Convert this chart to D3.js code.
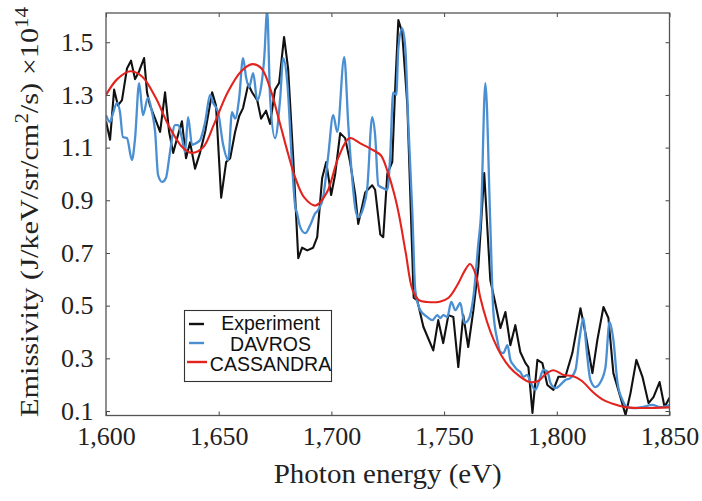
<!DOCTYPE html>
<html>
<head>
<meta charset="utf-8">
<script src="https://cdn.jsdelivr.net/npm/d3@7/dist/d3.min.js"></script>
<style>
  html, body { margin: 0; padding: 0; background: #fff; }
  svg { display: block; }
  .tick text { font-family: "Liberation Serif", "Times New Roman", serif; font-size: 26px; fill: #222; }
  .axis-title { font-family: "Liberation Serif", "Times New Roman", serif; fill: #222; }
  .legend-text { font-family: "Liberation Sans", Arial, sans-serif; font-size: 19.5px; fill: #111; }
</style>
</head>
<body>
<svg id="chart"></svg>
<script>
// Experiment (black)
const expEnergy = [1600.0, 1601.8, 1603.6, 1605.3, 1607.1, 1609.3, 1611.1, 1612.9, 1614.7, 1616.9,
  1618.2, 1619.5, 1621.8, 1624.0, 1626.2, 1628.0, 1629.8, 1632.0, 1633.7, 1635.5,
  1637.3, 1639.5, 1641.7, 1644.0, 1647.1, 1648.8, 1651.1, 1653.3, 1655.1, 1657.3,
  1659.1, 1660.8, 1663.1, 1664.8, 1667.1, 1668.8, 1671.0, 1672.8, 1675.0, 1676.8,
  1679.0, 1680.8, 1683.0, 1685.3, 1687.0, 1689.3, 1691.9, 1693.7, 1695.9, 1697.7,
  1699.9, 1701.7, 1703.9, 1706.1, 1708.3, 1710.6, 1711.9, 1715.0, 1718.1, 1719.4,
  1721.7, 1723.0, 1724.8, 1727.0, 1728.3, 1729.7, 1731.4, 1733.7, 1736.5, 1738.1,
  1740.8, 1745.2, 1747.4, 1749.6, 1751.9, 1754.1, 1756.3, 1758.5, 1760.7, 1763.0,
  1765.2, 1767.8, 1770.5, 1772.7, 1775.0, 1777.2, 1779.4, 1781.6, 1783.8, 1786.1,
  1787.4, 1789.2, 1791.4, 1793.6, 1795.8, 1798.5, 1800.7, 1803.8, 1806.9, 1810.5,
  1812.7, 1815.8, 1818.0, 1820.7, 1822.9, 1825.1, 1828.2, 1830.5, 1832.7, 1835.3,
  1838.0, 1840.7, 1842.9, 1845.6, 1847.8, 1850.0];
const expValue = [1.20, 1.13, 1.32, 1.26, 1.28, 1.40, 1.43, 1.36, 1.39, 1.44,
  1.31, 1.26, 1.21, 1.16, 1.31, 1.16, 1.08, 1.15, 1.20, 1.06,
  1.12, 1.02, 1.08, 1.16, 1.31, 1.26, 0.91, 1.045, 1.06, 1.16,
  1.22, 1.25, 1.34, 1.31, 1.28, 1.21, 1.24, 1.19, 1.32, 1.345,
  1.52, 1.40, 1.07, 0.68, 0.72, 0.71, 0.72, 0.76, 0.985, 1.045,
  0.92, 1.00, 1.155, 1.136, 1.045, 0.92, 0.81, 0.93, 0.957, 0.94,
  0.77, 0.76, 1.00, 1.045, 1.326, 1.584, 1.538, 1.26, 0.53, 0.52,
  0.42, 0.33, 0.445, 0.358, 0.464, 0.457, 0.267, 0.464, 0.343, 0.483,
  0.647, 1.003, 0.597, 0.51, 0.415, 0.476, 0.35, 0.426, 0.324, 0.282,
  0.267, 0.093, 0.294, 0.282, 0.199, 0.18, 0.23, 0.23, 0.32, 0.49,
  0.396, 0.244, 0.37, 0.495, 0.453, 0.244, 0.153, 0.085, 0.168, 0.294,
  0.23, 0.13, 0.153, 0.21, 0.115, 0.15];

// DAVROS (blue)
const davEnergy = [1600.0, 1601.8, 1603.1, 1604.9, 1606.2, 1607.5, 1609.3, 1611.5, 1612.9, 1614.7,
  1616.4, 1618.6, 1620.4, 1621.8, 1623.1, 1624.9, 1626.6, 1628.4, 1630.6, 1632.0,
  1633.7, 1635.1, 1636.4, 1638.2, 1639.5, 1641.7, 1644.0, 1646.2, 1647.5, 1649.7,
  1652.0, 1654.2, 1655.9, 1657.3, 1659.1, 1660.8, 1662.2, 1663.5, 1665.3, 1667.1,
  1668.8, 1670.2, 1671.5, 1672.8, 1675.0, 1677.3, 1678.6, 1680.4, 1682.6, 1683.9,
  1684.8, 1686.1, 1688.4, 1690.6, 1692.8, 1694.1, 1696.3, 1698.6, 1700.8, 1702.6,
  1705.7, 1707.5, 1709.2, 1710.6, 1711.9, 1714.1, 1715.9, 1718.1, 1719.4, 1720.8,
  1723.0, 1724.8, 1726.1, 1727.4, 1728.8, 1729.7, 1731.4, 1732.8, 1734.1, 1735.9,
  1737.2, 1739.4, 1742.5, 1744.8, 1747.0, 1748.3, 1749.6, 1751.4, 1753.2, 1755.0,
  1757.2, 1759.0, 1760.7, 1763.0, 1765.2, 1766.4, 1768.3, 1770.5, 1771.8, 1773.6,
  1775.0, 1776.3, 1778.1, 1779.4, 1780.7, 1782.5, 1783.8, 1785.2, 1786.9, 1788.3,
  1790.5, 1792.3, 1794.0, 1795.8, 1797.2, 1799.4, 1801.6, 1803.8, 1806.0, 1808.3,
  1810.0, 1811.8, 1813.1, 1814.9, 1817.1, 1819.4, 1821.6, 1823.4, 1825.1, 1826.9,
  1829.1, 1831.3, 1834.0, 1838.0, 1842.4, 1846.0, 1850.0];
const davValue = [1.223, 1.197, 1.23, 1.27, 1.235, 1.14, 1.136, 1.053, 1.136, 1.345,
  1.223, 1.29, 1.235, 1.16, 0.996, 0.97, 0.985, 1.083, 1.185, 1.185,
  1.136, 1.083, 1.216, 1.11, 1.115, 1.128, 1.197, 1.30, 1.27, 1.235,
  1.11, 1.053, 1.235, 1.21, 1.29, 1.44, 1.364, 1.33, 1.383, 1.28,
  1.33, 1.44, 1.62, 1.29, 1.136, 1.29, 1.44, 1.35, 1.03, 0.88,
  0.85, 0.80, 0.775, 0.806, 0.85, 0.863, 0.91, 1.07, 1.223, 1.16,
  1.443, 1.185, 0.985, 0.87, 0.836, 0.87, 0.946, 1.216, 1.147, 0.957,
  0.946, 0.94, 1.07, 1.31, 1.30, 1.478, 1.553, 1.478, 1.197, 0.855,
  0.56, 0.483, 0.457, 0.445, 0.464, 0.453, 0.464, 0.457, 0.514, 0.483,
  0.51, 0.434, 0.445, 0.533, 0.737, 0.85, 1.345, 0.81, 0.483, 0.37,
  0.324, 0.32, 0.35, 0.294, 0.275, 0.256, 0.248, 0.23, 0.237, 0.21,
  0.18, 0.218, 0.256, 0.25, 0.206, 0.187, 0.199, 0.218, 0.225, 0.256,
  0.37, 0.453, 0.343, 0.218, 0.191, 0.21, 0.267, 0.438, 0.37, 0.21,
  0.142, 0.115, 0.111, 0.115, 0.123, 0.115, 0.123];

// CASSANDRA (red)
const casEnergy = [1600, 1605, 1610.7, 1616, 1622, 1628, 1634, 1638, 1643, 1648,
  1654, 1660, 1665, 1669, 1673, 1677, 1681, 1684, 1688, 1693,
  1698, 1703, 1708, 1713, 1718.6, 1722, 1725, 1728, 1730, 1733,
  1736, 1739, 1742.5, 1748, 1752, 1756, 1759, 1761.5, 1764, 1766,
  1769, 1772, 1775.5, 1779, 1783, 1788, 1792, 1795, 1798.5, 1803,
  1807, 1811, 1816, 1820, 1824, 1831, 1850];
const casValue = [1.30, 1.36, 1.39, 1.37, 1.29, 1.18, 1.10, 1.08, 1.10, 1.19,
  1.31, 1.39, 1.417, 1.40, 1.32, 1.197, 1.07, 0.985, 0.91, 0.88,
  0.93, 1.06, 1.136, 1.115, 1.09, 1.07, 1.007, 0.92, 0.844, 0.70,
  0.56, 0.52, 0.514, 0.515, 0.53, 0.58, 0.63, 0.658, 0.62, 0.533,
  0.44, 0.37, 0.31, 0.267, 0.235, 0.21, 0.215, 0.24, 0.255, 0.237,
  0.233, 0.215, 0.172, 0.145, 0.13, 0.114, 0.114];

const xTicks = [1600, 1650, 1700, 1750, 1800, 1850];
const yTicks = [0.1, 0.3, 0.5, 0.7, 0.9, 1.1, 1.3, 1.5];

const seriesNames = ["Experiment", "DAVROS", "CASSANDRA"];
const seriesColors = ["#111111", "#4a8fd2", "#e3231d"];

const width = 702;
const height = 501;
const plot = { left: 106, right: 669.5, top: 13, bottom: 415.5 };

const svg = d3.select("#chart").attr("width", width).attr("height", height);

const x = d3.scaleLinear().domain([1600, 1850]).range([plot.left, plot.right]);
const y = d3.scaleLinear().domain([0.083, 1.611]).range([plot.bottom, plot.top]);

svg.append("defs")
  .append("clipPath")
  .attr("id", "plot-clip")
  .append("rect")
  .attr("x", plot.left)
  .attr("y", plot.top)
  .attr("width", plot.right - plot.left)
  .attr("height", plot.bottom - plot.top);

// axes (ticks point inward, like the matlab box)
const bottomAxis = svg.append("g")
  .attr("transform", `translate(0,${plot.bottom})`)
  .call(d3.axisBottom(x).tickValues(xTicks).tickFormat(d3.format(",")).tickSize(-4).tickPadding(11));

svg.append("g")
  .attr("transform", `translate(0,${plot.top})`)
  .call(d3.axisTop(x).tickValues(xTicks).tickFormat("").tickSize(-4));

svg.append("g")
  .attr("transform", `translate(${plot.left},0)`)
  .call(d3.axisLeft(y).tickValues(yTicks).tickFormat(d3.format(".1f")).tickSize(-4).tickPadding(12.5));

svg.append("g")
  .attr("transform", `translate(${plot.right},0)`)
  .call(d3.axisRight(y).tickValues(yTicks).tickFormat("").tickSize(-4));

svg.selectAll(".domain").remove();
svg.selectAll(".tick line").attr("stroke", "#444").attr("stroke-width", 1);

// lines
const series = [
  { energy: expEnergy, value: expValue, curve: d3.curveLinear, width: 2.1 },
  { energy: davEnergy, value: davValue, curve: d3.curveMonotoneX, width: 2.3 },
  { energy: casEnergy, value: casValue, curve: d3.curveCatmullRom.alpha(0.5), width: 2.1 },
];

const lines = svg.append("g").attr("clip-path", "url(#plot-clip)");

series.forEach((s, i) => {
  const pts = s.energy.map((e, j) => [e, s.value[j]]);
  const line = d3.line()
    .x((d) => x(d[0]))
    .y((d) => y(d[1]))
    .curve(s.curve);
  lines.append("path")
    .datum(pts)
    .attr("fill", "none")
    .attr("stroke", seriesColors[i])
    .attr("stroke-width", s.width)
    .attr("stroke-linejoin", "round")
    .attr("d", line);
});

// frame
svg.append("rect")
  .attr("x", plot.left)
  .attr("y", plot.top)
  .attr("width", plot.right - plot.left)
  .attr("height", plot.bottom - plot.top)
  .attr("fill", "none")
  .attr("stroke", "#555")
  .attr("stroke-width", 1.3);

// legend
const legend = svg.append("g");
legend.append("rect")
  .attr("x", 184.5)
  .attr("y", 310.5)
  .attr("width", 147)
  .attr("height", 71)
  .attr("fill", "#fff")
  .attr("stroke", "#333")
  .attr("stroke-width", 1.1);

const legendRows = [
  { y: 324, x0: 189, x1: 204, base: 330 },
  { y: 343, x0: 189, x1: 204, base: 350.5 },
  { y: 362, x0: 187, x1: 207, base: 371 },
];

legendRows.forEach((r, i) => {
  legend.append("line")
    .attr("x1", r.x0).attr("x2", r.x1)
    .attr("y1", r.y).attr("y2", r.y)
    .attr("stroke", seriesColors[i])
    .attr("stroke-width", 2.4);
  legend.append("text")
    .attr("class", "legend-text")
    .attr("x", 270.5)
    .attr("y", r.base)
    .attr("text-anchor", "middle")
    .text(seriesNames[i]);
});

// axis titles
svg.append("text")
  .attr("class", "axis-title")
  .attr("x", (plot.left + plot.right) / 2)
  .attr("y", 483)
  .attr("text-anchor", "middle")
  .attr("font-size", 28)
  .attr("textLength", 228)
  .attr("lengthAdjust", "spacingAndGlyphs")
  .text("Photon energy (eV)");

const yTitle = svg.append("text")
  .attr("class", "axis-title")
  .attr("transform", "translate(38,212) rotate(-90)")
  .attr("text-anchor", "middle")
  .attr("font-size", 26)
  .attr("textLength", 410)
  .attr("lengthAdjust", "spacingAndGlyphs");

yTitle.append("tspan").text("Emissivity (J/keV/sr/cm");
yTitle.append("tspan").attr("dy", -10).attr("font-size", 18).text("2");
yTitle.append("tspan").attr("dy", 10).text("/s) \u00d710");
yTitle.append("tspan").attr("dy", -10).attr("font-size", 18).text("14");
</script>
</body>
</html>
